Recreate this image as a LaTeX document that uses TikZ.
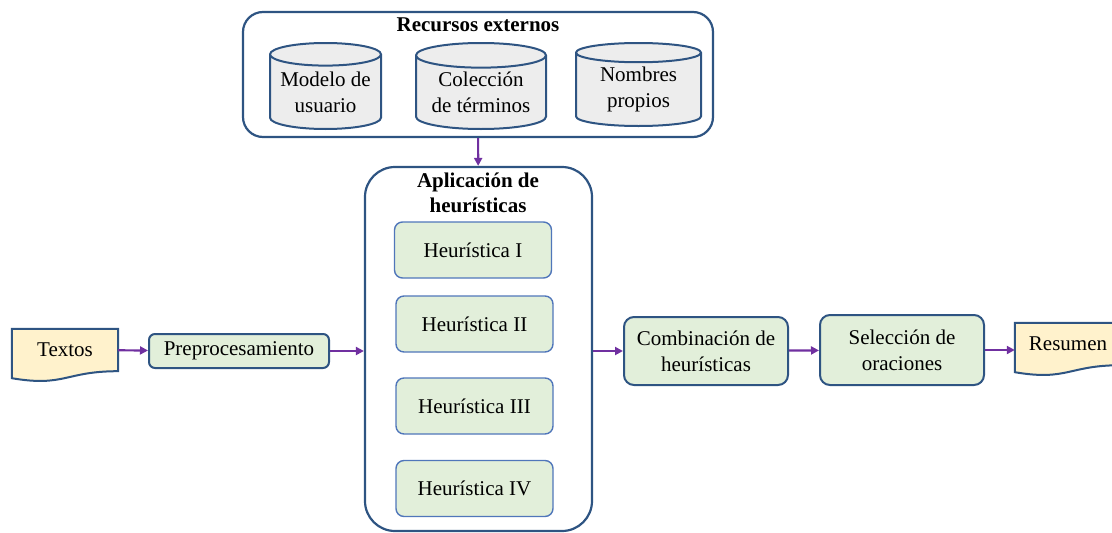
\documentclass[tikz,border=0pt]{standalone}
\usepackage{fontspec}
\setmainfont{Liberation Serif}
\usetikzlibrary{shapes.geometric,arrows.meta,calc,backgrounds}
\definecolor{borde}{RGB}{46,84,130}
\definecolor{bordeclaro}{RGB}{80,118,186}
\definecolor{verdeclaro}{RGB}{226,239,218}
\definecolor{amarillo}{RGB}{255,242,204}
\definecolor{grisclaro}{RGB}{237,237,237}
\definecolor{morado}{RGB}{112,48,160}
\tikzset{
  caja/.style={draw=borde, line width=2pt, rounded corners=8pt, fill=verdeclaro, align=center, inner sep=0pt},
  heur/.style={draw=bordeclaro, line width=1.4pt, rounded corners=8pt, fill=verdeclaro,
    minimum width=157pt, minimum height=56pt, inner sep=0pt},
  grupo/.style={draw=borde, line width=2.2pt, inner sep=0pt},
  base/.style={cylinder, shape border rotate=90, aspect=0.25, draw=borde, line width=2pt,
    fill=grisclaro, align=center, inner sep=0pt, anchor=north},
  docu/.style={minimum width=106pt, minimum height=42pt, inner sep=0pt},
  docborde/.style={draw=borde, line width=2pt, fill=amarillo},
  titulo/.style={font=\fontsize{21}{25}\selectfont\bfseries, align=center},
  flecha/.style={-{Triangle[length=8pt,width=8pt]}, draw=morado, line width=2.2pt}
}
\begin{document}
\begin{tikzpicture}[x=1pt, y=-1pt, font=\fontsize{21}{26}\selectfont]
  \useasboundingbox (0,0) rectangle (1112,533);
  % recursos externos
  \node[grupo, rounded corners=20pt, minimum width=470pt, minimum height=125pt] (recursos) at (478,74.5) {};
  \node[titulo] (trecursos) at (478,25) {Recursos externos};
  \node[base, minimum width=111pt, minimum height=86pt] (modelo) at (325.5,42) {Modelo de\\usuario};
  \node[base, minimum width=130pt, minimum height=86pt] (coleccion) at (481,42) {Colección\\de términos};
  \node[base, minimum width=125pt, minimum height=83pt] (nombres) at (638.5,42) {Nombres\\propios};
  % aplicacion de heuristicas
  \node[grupo, rounded corners=30pt, minimum width=227pt, minimum height=364pt] (aplicacion) at (478.5,349) {};
  \node[titulo] (taplicacion) at (478,193) {Aplicación de\\heurísticas};
  \node[heur] (h1) at (473,250) {Heurística I};
  \node[heur] (h2) at (474.5,324) {Heurística II};
  \node[heur] (h3) at (474.5,406) {Heurística III};
  \node[heur] (h4) at (474.5,488.5) {Heurística IV};
  % cadena principal
  \node[docu] (textos) at (65,350) {Textos};
  \node[caja, minimum width=180pt, minimum height=34pt, rounded corners=6pt] (pre) at (239,351) {Preprocesamiento};
  \node[caja, minimum width=164pt, minimum height=68pt, rounded corners=10pt] (comb) at (706,351) {Combinación de\\heurísticas};
  \node[caja, minimum width=164pt, minimum height=70pt, rounded corners=10pt] (sel) at (902,350) {Selección de\\oraciones};
  \node[docu] (resumen) at (1068,344) {Resumen};
  \begin{scope}[on background layer]
    \draw[docborde] (textos.north west) -- (textos.north east) -- (textos.south east)
      .. controls ($(textos.south)$) and ($(textos.south)+(0,16)$) .. ($(textos.south west)+(0,7)$) -- cycle;
    \draw[docborde] (resumen.north west) -- (resumen.north east) -- (resumen.south east)
      .. controls ($(resumen.south)$) and ($(resumen.south)+(0,16)$) .. ($(resumen.south west)+(0,7)$) -- cycle;
  \end{scope}
  \begin{scope}[flecha]
    \draw (recursos) -- (aplicacion);
    \draw (textos) -- (pre);
    \draw (pre) -- (pre -| aplicacion.west);
    \draw (aplicacion.east |- comb) -- (comb);
    \draw (comb) -- (sel);
    \draw (sel) -- (sel -| resumen.west);
  \end{scope}
\end{tikzpicture}
\end{document}
